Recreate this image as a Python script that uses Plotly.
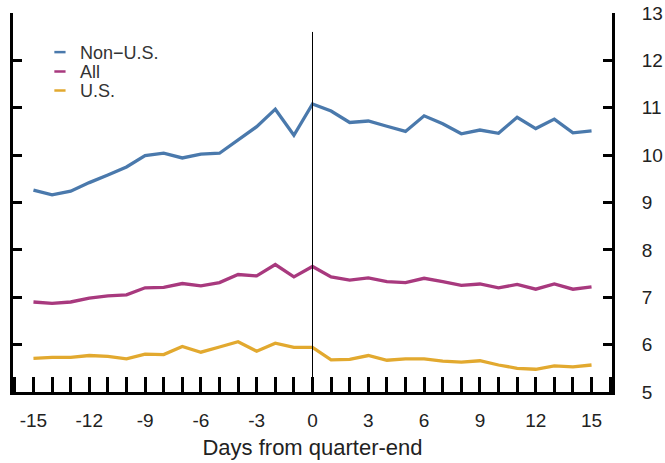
import plotly.graph_objects as go

days = list(range(-15, 16))

non_us = [9.26, 9.16, 9.24, 9.42, 9.58, 9.75, 9.99, 10.04, 9.94, 10.02, 10.04,
          10.31, 10.60, 10.97, 10.42, 11.08,
          10.93, 10.69, 10.72, 10.61, 10.50, 10.83, 10.66, 10.45, 10.53, 10.46,
          10.80, 10.56, 10.76, 10.47, 10.51]
all_banks = [6.90, 6.87, 6.90, 6.98, 7.03, 7.05, 7.20, 7.21, 7.29, 7.24, 7.31,
             7.48, 7.45, 7.69, 7.43, 7.65,
             7.43, 7.36, 7.41, 7.33, 7.31, 7.40, 7.33, 7.25, 7.28, 7.20,
             7.27, 7.17, 7.28, 7.17, 7.22]
us = [5.71, 5.73, 5.73, 5.77, 5.75, 5.70, 5.80, 5.79, 5.96, 5.84, 5.95,
      6.06, 5.86, 6.03, 5.94, 5.94,
      5.68, 5.69, 5.77, 5.67, 5.70, 5.70, 5.65, 5.63, 5.66, 5.57,
      5.50, 5.48, 5.55, 5.53, 5.57]

series_names = ["Non\u2212U.S.", "All", "U.S."]
series_values = [non_us, all_banks, us]
series_colors = ["#4a79ac", "#a8397e", "#e2a92f"]

x_tickvals = [-15, -12, -9, -6, -3, 0, 3, 6, 9, 12, 15]
y_tickvals = [5, 6, 7, 8, 9, 10, 11, 12, 13]
vline_top = 12.6

legend_ids = ["legend", "legend2", "legend3"]
legend_y = [0.896, 0.845, 0.795]

fig = go.Figure()
for name, vals, col in zip(series_names, series_values, series_colors):
    fig.add_trace(go.Scatter(x=days, y=vals, mode="lines", name=name,
                             line=dict(color=col, width=3.3),
                             showlegend=False))
# legend-only entries with short line glyphs, one legend per row
for name, col, lid in zip(series_names, series_colors, legend_ids):
    fig.add_trace(go.Scatter(x=[None], y=[None], mode="markers", name=name,
                             marker=dict(symbol="line-ew", size=8,
                                         line=dict(color=col, width=2.5)),
                             showlegend=True, legend=lid))

fig.add_shape(type="line", x0=0, x1=0, y0=5, y1=vline_top, xref="x", yref="y",
              line=dict(color="black", width=1))

legend_style = dict(xanchor="left", yanchor="middle", x=0.045,
                    font=dict(size=18, color="#333333"),
                    bgcolor="rgba(0,0,0,0)", itemwidth=30)

fig.update_layout(
    width=665, height=463,
    margin=dict(l=13, r=53, t=13, b=71),
    plot_bgcolor="white", paper_bgcolor="white",
    font=dict(family="Liberation Sans, Arial, sans-serif", color="#222222"),
    legend=dict(y=legend_y[0], **legend_style),
    legend2=dict(y=legend_y[1], **legend_style),
    legend3=dict(y=legend_y[2], **legend_style),
    xaxis=dict(range=[-16.1, 16.1], tickvals=x_tickvals,
               ticktext=[str(v) for v in x_tickvals],
               showline=True, linecolor="black", linewidth=3,
               ticks="inside", ticklen=15, tickwidth=3, tickcolor="black",
               minor=dict(dtick=1, tick0=0, ticks="inside", ticklen=15,
                          tickwidth=3, tickcolor="black", showgrid=False),
               showgrid=False, zeroline=False, automargin=False,
               tickfont=dict(size=19, color="#222222"),
               ticklabelstandoff=9,
               title=dict(text="Days from quarter-end",
                          font=dict(size=22, color="#222222"), standoff=10)),
    yaxis=dict(range=[5, 13], tickvals=y_tickvals, side="right",
               showline=True, linecolor="black", linewidth=3, mirror="ticks",
               ticks="inside", ticklen=9, tickwidth=3, tickcolor="black",
               showgrid=False, zeroline=False, automargin=False,
               tickfont=dict(size=19, color="#222222"),
               ticklabelstandoff=23),
)

fig.write_html("out.html")
